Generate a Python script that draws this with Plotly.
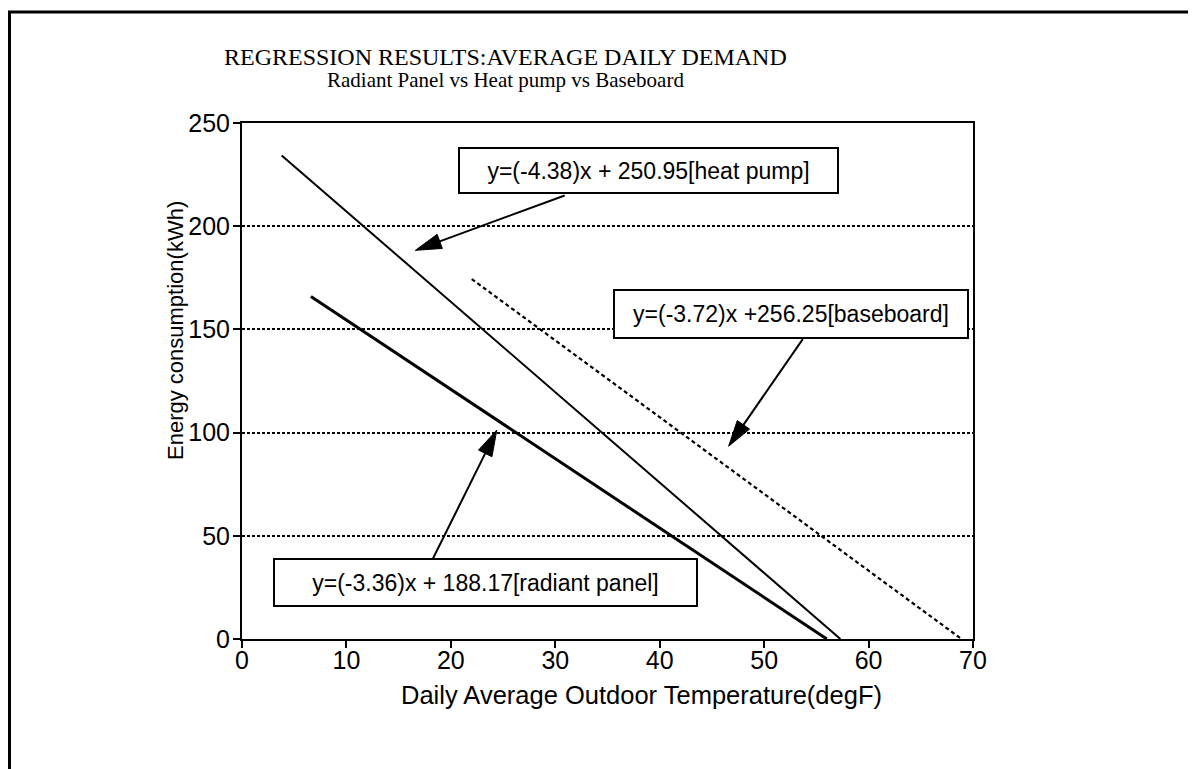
import math
import plotly.graph_objects as go

# ---- data ----
heat_pump_x = [3.8, 57.3]
heat_pump_y = [234.3, 0.0]
radiant_x = [6.6, 56.0]
radiant_y = [166.0, 0.0]
baseboard_x = [22.0, 68.9]
baseboard_y = [174.4, 0.0]

x_ticks = [0, 10, 20, 30, 40, 50, 60, 70]
y_ticks = [0, 50, 100, 150, 200, 250]

labels = {
    "heat": "y=(-4.38)x + 250.95[heat pump]",
    "base": "y=(-3.72)x +256.25[baseboard]",
    "rad": "y=(-3.36)x + 188.17[radiant panel]",
}

title_text = "REGRESSION RESULTS:AVERAGE DAILY DEMAND"
subtitle_text = "Radiant Panel vs Heat pump vs Baseboard"
x_title = "Daily Average Outdoor Temperature(degF)"
y_title = "Energy consumption(kWh)"

SANS = "Liberation Sans, Arial, Helvetica, sans-serif"
SERIF = "Liberation Serif, Times New Roman, serif"

X_RANGE = [0, 70]
Y_RANGE = [0, 250]

fig = go.Figure()
fig.add_trace(go.Scatter(x=heat_pump_x, y=heat_pump_y, mode="lines",
                         line=dict(color="black", width=2), showlegend=False))
fig.add_trace(go.Scatter(x=radiant_x, y=radiant_y, mode="lines",
                         line=dict(color="black", width=3), showlegend=False))
fig.add_trace(go.Scatter(x=baseboard_x, y=baseboard_y, mode="lines",
                         line=dict(color="black", width=2.2, dash="4px,3px"), showlegend=False))

OFF = 8  # page body margin
W, H = 1196 - OFF, 769 - OFF
L, T = 242 - OFF, 123 - OFF
R = W - (973 - OFF)
B = H - (639 - OFF)
pw, ph = W - L - R, H - T - B
sx = pw / (X_RANGE[1] - X_RANGE[0])
sy = ph / (Y_RANGE[1] - Y_RANGE[0])


def px(xp):
    return (xp - OFF - L) / pw


def py(yp):
    return (H - B - (yp - OFF)) / ph


ann = []
ann.append(dict(text=title_text, x=px(505), y=py(57), xref="paper", yref="paper",
                showarrow=False, font=dict(family=SERIF, size=24, color="black"),
                xanchor="center", yanchor="middle"))
ann.append(dict(text=subtitle_text, x=px(505), y=py(80), xref="paper", yref="paper",
                showarrow=False, font=dict(family=SERIF, size=21, color="black"),
                xanchor="center", yanchor="middle"))
ann.append(dict(text=x_title, x=px(641), y=py(695), xref="paper", yref="paper",
                showarrow=False, font=dict(family=SANS, size=25.5, color="black"),
                xanchor="center", yanchor="middle"))
ann.append(dict(text=y_title, x=px(175), y=py(331), xref="paper", yref="paper",
                showarrow=False, textangle=-90, font=dict(family=SANS, size=22, color="black"),
                xanchor="center", yanchor="middle"))

boxes = [
    (labels["heat"], 38.9, 226.9, 377, 43),
    (labels["base"], 52.6, 157.3, 352, 46),
    (labels["rad"], 23.3, 27.2, 421, 45),
]
for txt, bx, by, bw, bh in boxes:
    ann.append(dict(text=txt, x=bx, y=by, xref="x", yref="y", showarrow=False,
                    width=bw, height=bh, bgcolor="white", bordercolor="black",
                    borderwidth=2, borderpad=0, align="center", valign="middle",
                    font=dict(family=SANS, size=23, color="black"),
                    xanchor="center", yanchor="middle"))

shapes = [
    dict(type="line", xref="paper", yref="paper", x0=px(OFF), x1=px(1196),
         y0=py(12), y1=py(12), line=dict(color="black", width=3)),
    dict(type="line", xref="paper", yref="paper", x0=px(OFF + 1.5), x1=px(OFF + 1.5),
         y0=py(11), y1=py(769), line=dict(color="black", width=3)),
]

# arrows (tail -> head) in data coords, heads drawn as filled triangles
arrows = [
    ((30.9, 214.9), (16.6, 188.3)),
    ((53.7, 145.3), (46.6, 93.4)),
    ((18.3, 39.1), (24.4, 101.2)),
]
HEAD_LEN, HEAD_HALF = 26, 7.5
for (tx, ty), (hx, hy) in arrows:
    dxp, dyp = (hx - tx) * sx, (hy - ty) * sy
    n = math.hypot(dxp, dyp)
    ux, uy = dxp / n, dyp / n
    bxp, byp = -ux * HEAD_LEN, -uy * HEAD_LEN  # base center offset (px)
    p1 = (hx + (bxp - uy * HEAD_HALF) / sx, hy + (byp + ux * HEAD_HALF) / sy)
    p2 = (hx + (bxp + uy * HEAD_HALF) / sx, hy + (byp - ux * HEAD_HALF) / sy)
    basex, basey = hx + bxp / sx, hy + byp / sy
    shapes.append(dict(type="line", xref="x", yref="y", x0=tx, y0=ty, x1=basex, y1=basey,
                       line=dict(color="black", width=2)))
    shapes.append(dict(type="path", xref="x", yref="y",
                       path=f"M{hx},{hy} L{p1[0]},{p1[1]} L{p2[0]},{p2[1]} Z",
                       fillcolor="black", line=dict(color="black", width=1)))

fig.update_layout(
    width=W, height=H,
    margin=dict(l=L, r=R, t=T, b=B),
    paper_bgcolor="white", plot_bgcolor="white",
    annotations=ann, shapes=shapes,
    font=dict(family=SANS, color="black"),
)
fig.update_xaxes(range=X_RANGE, tickvals=x_ticks, ticktext=[str(v) for v in x_ticks],
                 showgrid=False, zeroline=False, showline=True, linecolor="black",
                 linewidth=2, mirror=True, ticks="outside", ticklen=7, tickwidth=2,
                 tickcolor="black", ticklabelstandoff=-9,
                 tickfont=dict(family=SANS, size=25, color="black"))
fig.update_yaxes(range=Y_RANGE, tickvals=y_ticks, ticktext=[str(v) for v in y_ticks],
                 showgrid=True, gridcolor="black", gridwidth=2, griddash="3px,2px",
                 zeroline=False, showline=True, linecolor="black",
                 linewidth=2, mirror=True, ticks="outside", ticklen=7, tickwidth=2,
                 tickcolor="black", ticklabelstandoff=-2,
                 tickfont=dict(family=SANS, size=25, color="black"))

fig.write_html("out.html")
